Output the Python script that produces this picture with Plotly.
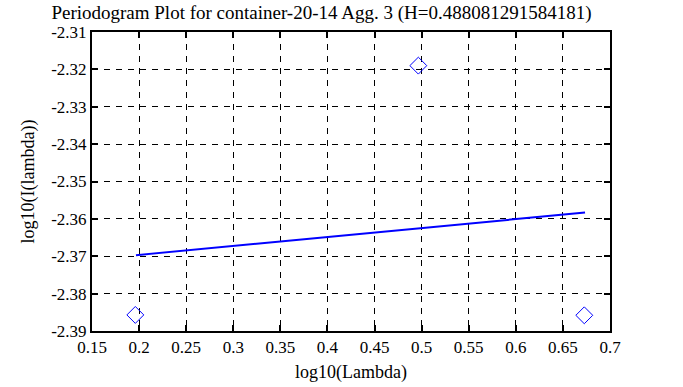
import plotly.graph_objects as go

title_text = "Periodogram Plot for container-20-14 Agg. 3 (H=0.488081291584181)"
pts_x = [0.196, 0.4965, 0.6727]
pts_y = [-2.3857, -2.3190, -2.3858]
fit_x = [0.1967, 0.6735]
fit_y = [-2.3697, -2.3583]
x_ticks = [0.15, 0.2, 0.25, 0.3, 0.35, 0.4, 0.45, 0.5, 0.55, 0.6, 0.65, 0.7]
x_labels = ["0.15", "0.2", "0.25", "0.3", "0.35", "0.4", "0.45", "0.5", "0.55", "0.6", "0.65", "0.7"]
y_ticks = [-2.39, -2.38, -2.37, -2.36, -2.35, -2.34, -2.33, -2.32, -2.31]
y_labels = ["-2.39", "-2.38", "-2.37", "-2.36", "-2.35", "-2.34", "-2.33", "-2.32", "-2.31"]

FAM = "Liberation Serif, Times New Roman, serif"

def f(size=18):
    return dict(family=FAM, size=size, color="black")

fig = go.Figure()
fig.add_trace(go.Scatter(x=pts_x, y=pts_y, mode="markers",
                         marker=dict(symbol="diamond-open", size=13, color="#0000ff",
                                     line=dict(width=1, color="#0000ff")),
                         showlegend=False))
fig.add_trace(go.Scatter(x=fit_x, y=fit_y, mode="lines",
                         line=dict(color="#0000ff", width=2), showlegend=False))

def axis_common():
    return dict(showline=True, linecolor="black", linewidth=2, mirror="ticks",
                ticks="inside", ticklen=6, tickwidth=2, tickcolor="black",
                showgrid=True, gridcolor="black", gridwidth=1, griddash="6px,6px",
                zeroline=False, automargin=False, tickfont=f(17))

fig.update_xaxes(range=[0.15, 0.7], tickvals=x_ticks, ticktext=x_labels,
                 title=dict(text="log10(Lambda)", font=f(18), standoff=9),
                 **axis_common())
fig.update_yaxes(range=[-2.39, -2.31], tickvals=y_ticks, ticktext=y_labels,
                 title=dict(text="log10(I(lambda))", font=f(18), standoff=12),
                 **axis_common())

fig.update_layout(
    width=683, height=387, autosize=False,
    margin=dict(l=92, r=73, t=32, b=56, autoexpand=False),
    paper_bgcolor="white", plot_bgcolor="white",
    font=f(18),
    title=dict(text=title_text, font=f(19), xref="paper",
               x=0.443, xanchor="center", y=0.985, yanchor="top"),
)

fig.write_html("out.html", config={"displayModeBar": False},
               post_script="document.body.style.margin='0';document.body.style.padding='0';")
